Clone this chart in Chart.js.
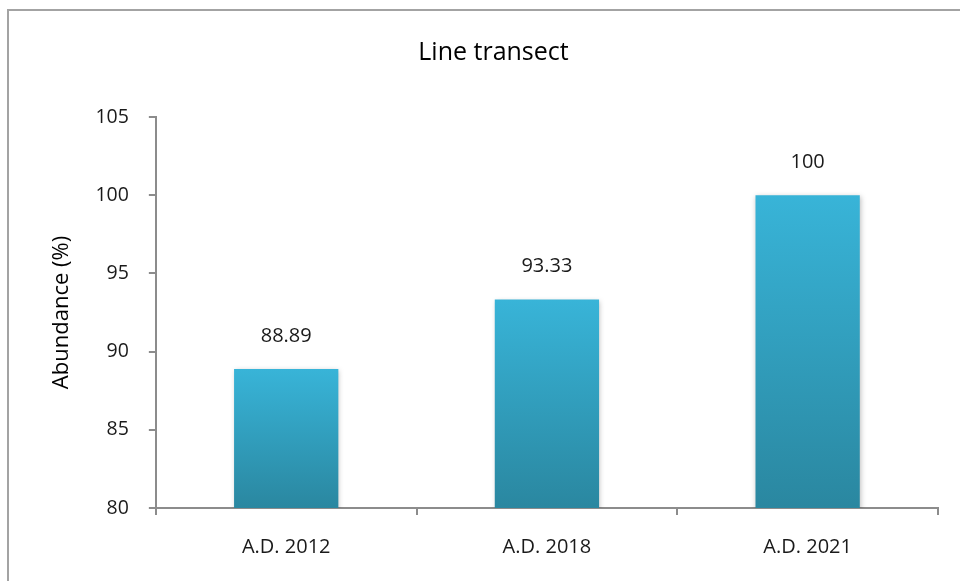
<!DOCTYPE html>
<html>
<head>
<meta charset="utf-8">
<title>Line transect</title>
<script src="https://cdn.jsdelivr.net/npm/chart.js@4.4.1/dist/chart.umd.min.js"></script>
<style>
  html, body { margin: 0; padding: 0; background: #fff; }
  #wrap { width: 960px; height: 581px; position: relative; }
</style>
</head>
<body>
<div id="wrap"><canvas id="abundanceChart" width="960" height="581"></canvas></div>
<script>
// chart data
const years = ["A.D. 2012", "A.D. 2018", "A.D. 2021"];
const abundance = [88.89, 93.33, 100];
const yTicks = [80, 85, 90, 95, 100, 105];

const FONT = "'Open Sans', 'Noto Sans', sans-serif";
const AXIS_GREY = "#8c8c8c";

// per-bar vertical gradient, light at the top, darker at the base
function barGradient(context) {
    const chart = context.chart;
    if (!chart.chartArea || context.type !== "data") return "#35aed3";
    const yScale = chart.scales.y;
    const top = yScale.getPixelForValue(context.raw);
    const base = yScale.getPixelForValue(yTicks[0]);
    const g = chart.ctx.createLinearGradient(0, top, 0, base);
    g.addColorStop(0, "#38b4d8");
    g.addColorStop(1, "#2a87a0");
    return g;
}

// grey frame round the whole picture (left and top edges show)
const framePlugin = {
    id: "frame",
    beforeDraw(chart) {
        const ctx = chart.ctx;
        ctx.save();
        ctx.strokeStyle = "#a3a3a3";
        ctx.lineWidth = 2;
        ctx.beginPath();
        ctx.moveTo(8, chart.height + 2);
        ctx.lineTo(8, 10);
        ctx.lineTo(chart.width + 2, 10);
        ctx.stroke();
        ctx.restore();
    }
};

// soft shadow under the bars
const shadowPlugin = {
    id: "barShadow",
    beforeDatasetDraw(chart) {
        const ctx = chart.ctx;
        ctx.save();
        ctx.shadowColor = "rgba(0,0,0,0.25)";
        ctx.shadowBlur = 5;
        ctx.shadowOffsetX = 1;
        ctx.shadowOffsetY = 1;
    },
    afterDatasetDraw(chart) {
        chart.ctx.restore();
    }
};

// value labels above each bar
const valueLabels = {
    id: "valueLabels",
    afterDatasetsDraw(chart) {
        const ctx = chart.ctx;
        const meta = chart.getDatasetMeta(0);
        ctx.save();
        ctx.font = "20px " + FONT;
        ctx.fillStyle = "#1a1a1a";
        ctx.textAlign = "center";
        ctx.textBaseline = "middle";
        meta.data.forEach((bar, i) => {
            ctx.fillText(String(abundance[i]), bar.x, bar.y - 33);
        });
        ctx.restore();
    }
};

new Chart(document.getElementById("abundanceChart"), {
    type: "bar",
    data: {
        labels: years,
        datasets: [{
            label: "Abundance (%)",
            data: abundance,
            backgroundColor: barGradient,
            borderWidth: 0,
            categoryPercentage: 1,
            barPercentage: 0.4
        }]
    },
    options: {
        responsive: false,
        animation: false,
        layout: { padding: { left: 49, right: 22, top: 0, bottom: 2 } },
        plugins: {
            legend: { display: false },
            tooltip: { enabled: false },
            title: {
                display: true,
                text: "Line transect",
                color: "#000",
                font: { family: FONT, size: 25, weight: "normal" },
                padding: { top: 38, bottom: 49 }
            }
        },
        scales: {
            x: {
                grid: {
                    offset: true,
                    drawOnChartArea: false,
                    drawTicks: true,
                    tickLength: 7,
                    color: AXIS_GREY,
                    lineWidth: 2
                },
                border: { display: true, color: AXIS_GREY, width: 2 },
                ticks: {
                    color: "#1a1a1a",
                    padding: 20,
                    font: { family: FONT, size: 20 }
                }
            },
            y: {
                min: yTicks[0],
                max: yTicks[yTicks.length - 1],
                grid: {
                    drawOnChartArea: false,
                    drawTicks: true,
                    tickLength: 7,
                    color: AXIS_GREY,
                    lineWidth: 2
                },
                border: { display: true, color: AXIS_GREY, width: 2 },
                ticks: {
                    stepSize: yTicks[1] - yTicks[0],
                    color: "#1a1a1a",
                    padding: 20,
                    font: { family: FONT, size: 19.5 }
                },
                title: {
                    display: true,
                    text: "Abundance (%)",
                    color: "#000",
                    font: { family: FONT, size: 22 },
                    padding: { top: 0, bottom: 0 }
                }
            }
        }
    },
    plugins: [framePlugin, shadowPlugin, valueLabels]
});
</script>
</body>
</html>
